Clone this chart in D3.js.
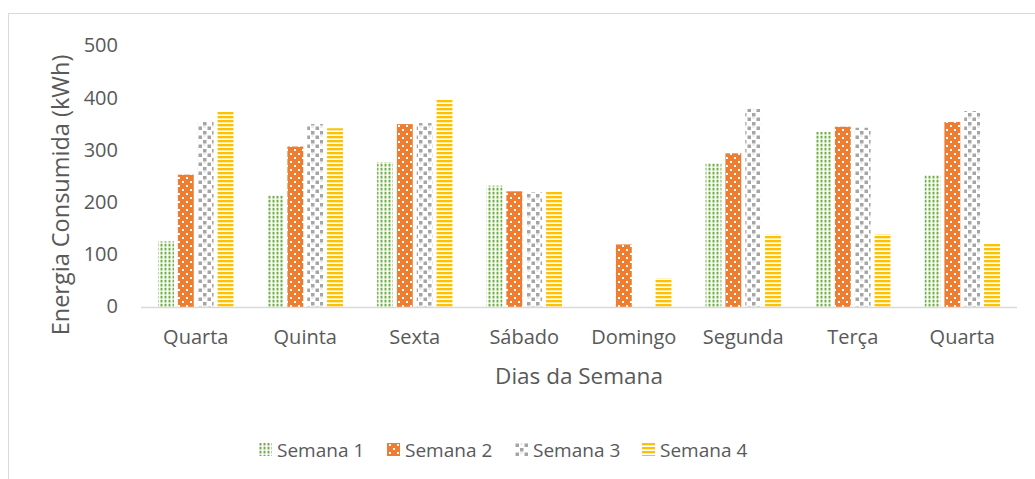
<!DOCTYPE html>
<html>
<head>
<meta charset="utf-8">
<script src="https://cdn.jsdelivr.net/npm/d3@7"></script>
<style>
  html, body { margin: 0; padding: 0; background: #fff; }
  svg { display: block; }
  text { font-family: "Open Sans", sans-serif; fill: #595959; }
</style>
</head>
<body>
<svg id="chart" width="1035" height="479"></svg>
<script>
const categories = ["Quarta", "Quinta", "Sexta", "Sábado", "Domingo", "Segunda", "Terça", "Quarta"];
const seriesNames = ["Semana 1", "Semana 2", "Semana 3", "Semana 4"];
const semana1 = [127, 215, 279, 234, 0, 277, 337, 254];
const semana2 = [255, 309, 352, 223, 121, 296, 347, 356];
const semana3 = [356, 352, 354, 221, 0, 381, 345, 377];
const semana4 = [377, 344, 400, 223, 56, 140, 141, 123];
const yTicks = [0, 100, 200, 300, 400, 500];

const seriesValues = [semana1, semana2, semana3, semana4];
const patternIds = ["p1", "p2", "p3", "p4"];

const svg = d3.select("#chart");
const defs = svg.append("defs");

// Pattern 1: green small dots on white
const p1 = defs.append("pattern").attr("id", "p1").attr("patternUnits", "userSpaceOnUse")
  .attr("width", 4).attr("height", 4);
p1.append("rect").attr("width", 4).attr("height", 4).attr("fill", "#fff");
p1.append("rect").attr("x", 0.5).attr("y", 0).attr("width", 2).attr("height", 2).attr("fill", "#70AD47");
p1.append("rect").attr("x", 0.5).attr("y", 2).attr("width", 2).attr("height", 1.5).attr("fill", "#B5D8A0");

// Pattern 2: orange with white dots
const p2 = defs.append("pattern").attr("id", "p2").attr("patternUnits", "userSpaceOnUse")
  .attr("width", 8).attr("height", 8);
p2.append("rect").attr("width", 8).attr("height", 8).attr("fill", "#ED7D31");
p2.append("rect").attr("x", 2).attr("y", 1).attr("width", 2).attr("height", 2).attr("fill", "#fff");
p2.append("rect").attr("x", 6).attr("y", 5).attr("width", 2).attr("height", 2).attr("fill", "#fff");

// Pattern 3: gray confetti squares on white
const p3 = defs.append("pattern").attr("id", "p3").attr("patternUnits", "userSpaceOnUse")
  .attr("width", 9).attr("height", 9);
p3.append("rect").attr("width", 9).attr("height", 9).attr("fill", "#fff");
p3.append("rect").attr("x", 0.5).attr("y", 0.5).attr("width", 3.5).attr("height", 3.5).attr("fill", "#A5A5A5");
p3.append("rect").attr("x", 5).attr("y", 5).attr("width", 3.5).attr("height", 3.5).attr("fill", "#A5A5A5");
p3.append("rect").attr("x", 5.5).attr("y", 0.5).attr("width", 2).attr("height", 1).attr("fill", "#D0D0D0");

// Pattern 4: yellow horizontal stripes
const p4 = defs.append("pattern").attr("id", "p4").attr("patternUnits", "userSpaceOnUse")
  .attr("width", 4).attr("height", 4);
p4.append("rect").attr("width", 4).attr("height", 4).attr("fill", "#fff");
p4.append("rect").attr("x", 0).attr("y", 0).attr("width", 4).attr("height", 2.2).attr("fill", "#FFC000");
p4.append("rect").attr("x", 0).attr("y", 2.2).attr("width", 4).attr("height", 0.6).attr("fill", "#FFE699");

// Chart border
svg.append("rect").attr("x", 8.5).attr("y", 13.5).attr("width", 1200).attr("height", 1000)
  .attr("fill", "none").attr("stroke", "#D9D9D9").attr("stroke-width", 1);

const plotLeft = 141, plotRight = 1017, plotBottom = 307.5, plotTop = 47;

const x = d3.scaleBand().domain(d3.range(categories.length)).range([plotLeft, plotRight]).padding(0);
const xi = d3.scaleBand().domain(d3.range(seriesNames.length)).range([0, x.bandwidth()])
  .paddingInner(0.2).paddingOuter(0.86);
const y = d3.scaleLinear().domain([0, 500]).range([plotBottom, plotTop]);

// Bars
seriesValues.forEach((vals, s) => {
  svg.append("g").selectAll("rect").data(vals).join("rect")
    .attr("x", (d, i) => x(i) + xi(s))
    .attr("y", d => y(d))
    .attr("width", xi.bandwidth())
    .attr("height", d => y(0) - y(d))
    .attr("fill", `url(#${patternIds[s]})`);
});

// Baseline
svg.append("line").attr("x1", plotLeft).attr("x2", plotRight)
  .attr("y1", plotBottom).attr("y2", plotBottom)
  .attr("stroke", "#D9D9D9").attr("stroke-width", 1.5);

// Y axis tick labels
const yAxis = d3.axisLeft(y).tickValues(yTicks).tickSize(0).tickPadding(0);
const gy = svg.append("g").attr("transform", `translate(118,-1.5)`).call(yAxis);
gy.select(".domain").remove();
gy.selectAll("text").style("font-size", "20px").attr("fill", "#595959")
  .style("font-family", "'Open Sans', sans-serif");

// X axis labels
const xAxis = d3.axisBottom(x).tickFormat(i => categories[i]).tickSize(0).tickPadding(0);
const gx = svg.append("g").attr("transform", `translate(0,${plotBottom + 22})`).call(xAxis);
gx.select(".domain").remove();
gx.selectAll("text").style("font-size", "20px").attr("fill", "#595959")
  .style("font-family", "'Open Sans', sans-serif");

// Axis titles
svg.append("text").attr("x", (plotLeft + plotRight) / 2).attr("y", 384)
  .attr("text-anchor", "middle").style("font-size", "22.5px").text("Dias da Semana");
svg.append("text").attr("transform", "translate(69,195) rotate(-90)")
  .attr("text-anchor", "middle").style("font-size", "23.5px").text("Energia Consumida (kWh)");

// Legend
const legendX = [259, 387, 515, 642];
const lg = svg.append("g").selectAll("g").data(seriesNames).join("g")
  .attr("transform", (d, i) => `translate(${legendX[i]},443)`);
lg.append("rect").attr("width", 13).attr("height", 13)
  .attr("fill", (d, i) => `url(#${patternIds[i]})`);
lg.append("text").attr("x", 18).attr("y", 13.5).style("font-size", "19px").text(d => d);
</script>
</body>
</html>
